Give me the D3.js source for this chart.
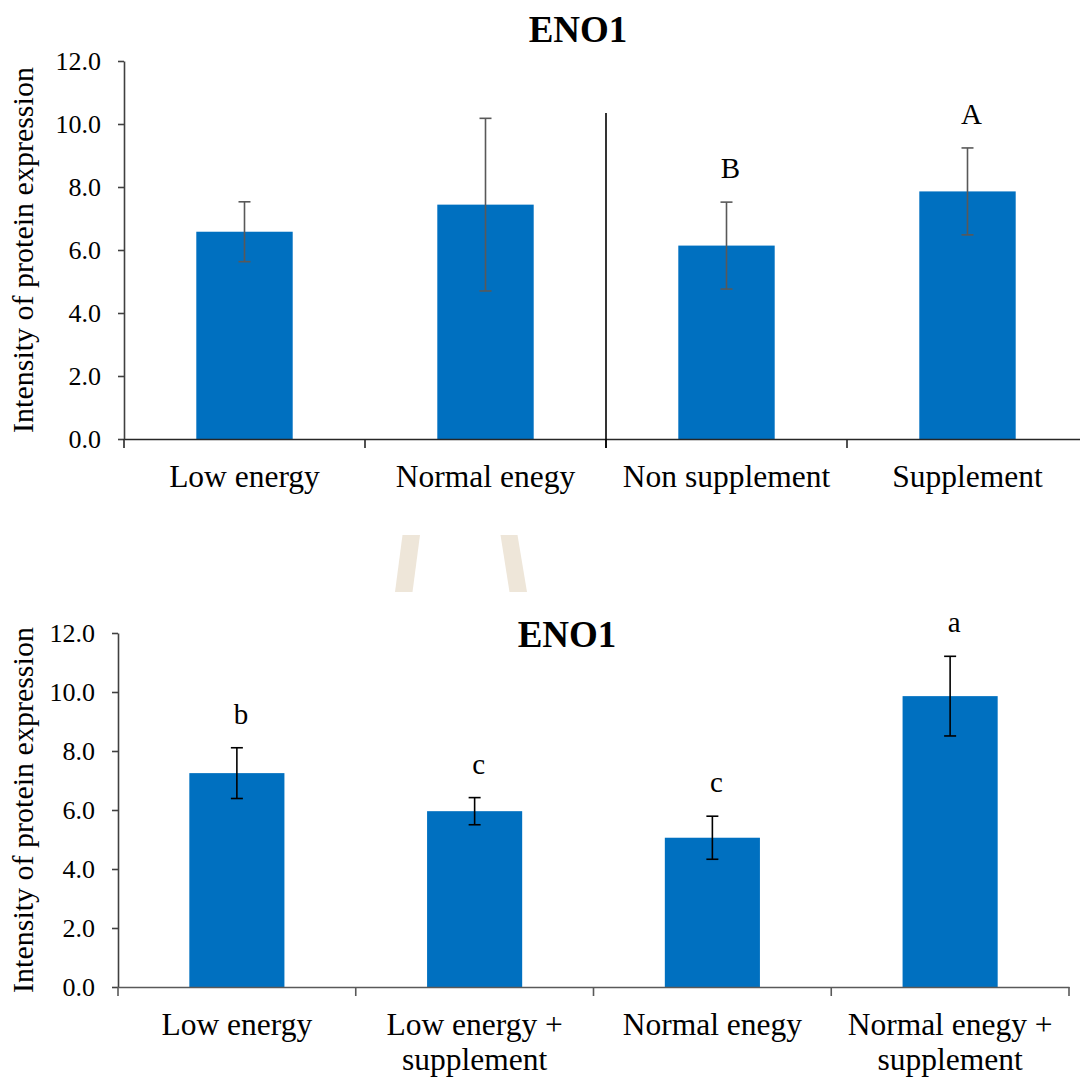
<!DOCTYPE html>
<html>
<head>
<meta charset="utf-8">
<script src="https://cdn.jsdelivr.net/npm/d3@7"></script>
<style>
  body { margin: 0; background: #fff; }
  svg { display: block; }
</style>
</head>
<body>
<div id="chart"></div>
<script>
// Données (moyenne ± erreur)
const topCategories = ['Low energy', 'Normal enegy', 'Non supplement', 'Supplement']
const topMeans      = [6.58, 7.44, 6.14, 7.86]
const topErrors     = [0.95, 2.74, 1.38, 1.38]
const topLetters    = ['', '', 'B', 'A']

const bottomCategories = ['Low energy', 'Low energy + supplement', 'Normal enegy', 'Normal enegy + supplement']
const bottomLabelLines = [['Low energy'], ['Low energy +', 'supplement'], ['Normal enegy'], ['Normal enegy +', 'supplement']]
const bottomMeans   = [7.25, 5.96, 5.06, 9.86]
const bottomErrors  = [0.86, 0.46, 0.73, 1.35]
const bottomLetters = ['b', 'c', 'c', 'a']

const yTicks = [0, 2, 4, 6, 8, 10, 12]

const STYLE = {
  bar:      '#0070C0',
  text:     '#000000',
  axis:     '#404040',
  font:     "'Liberation Serif', 'Times New Roman', serif",
}

const svg = d3.select('#chart')
  .append('svg')
  .attr('width', 1080)
  .attr('height', 1077)
  .style('background', '#fff')

// Filigrane beige entre les deux graphiques
const wm = svg.append('g').attr('fill', '#EEE6D9')
wm.append('path').attr('d', 'M402.5,535 L420,535 L412.5,592 L395,592 Z')
wm.append('path').attr('d', 'M500.5,535 L517.5,535 L527,592 L509.5,592 Z')

function buildChart(opts) {
  const { categories, labelLines, means, errors, letters, xRange, yRange,
          title, titleX, titleY, errColor, xAxisColor, divider } = opts

  const x = d3.scaleBand()
    .domain(categories)
    .range(xRange)
    .paddingInner(0.6)
    .paddingOuter(0.3)

  const y = d3.scaleLinear()
    .domain([0, 12])
    .range(yRange)

  const g = svg.append('g')

  // Titre
  g.append('text')
    .attr('x', titleX).attr('y', titleY)
    .attr('text-anchor', 'middle')
    .attr('font-family', STYLE.font)
    .attr('font-weight', 'bold')
    .attr('font-size', 37)
    .attr('fill', STYLE.text)
    .text(title)

  // Barres
  g.selectAll('rect.bar')
    .data(categories)
    .join('rect')
    .attr('class', 'bar')
    .attr('x', d => x(d))
    .attr('width', x.bandwidth())
    .attr('y', (d, i) => y(means[i]))
    .attr('height', (d, i) => y(0) - y(means[i]))
    .attr('fill', STYLE.bar)

  // Barres d'erreur
  const capW = 12
  categories.forEach((c, i) => {
    const cx = x(c) + x.bandwidth() / 2
    const hi = y(means[i] + errors[i])
    const lo = y(means[i] - errors[i])
    const eg = g.append('g').attr('stroke', errColor).attr('stroke-width', 1.6)
    eg.append('line').attr('x1', cx).attr('x2', cx).attr('y1', hi).attr('y2', lo)
    eg.append('line').attr('x1', cx - capW / 2).attr('x2', cx + capW / 2).attr('y1', hi).attr('y2', hi)
    eg.append('line').attr('x1', cx - capW / 2).attr('x2', cx + capW / 2).attr('y1', lo).attr('y2', lo)

    if (letters[i]) {
      g.append('text')
        .attr('x', cx + 4).attr('y', hi - 24)
        .attr('text-anchor', 'middle')
        .attr('font-family', STYLE.font)
        .attr('font-size', 29)
        .attr('fill', STYLE.text)
        .text(letters[i])
    }
  })

  // Axe Y
  g.append('g')
    .attr('transform', `translate(${xRange[0]},0)`)
    .call(d3.axisLeft(y).tickValues(yTicks).tickSize(6).tickSizeOuter(0).tickPadding(17)
      .tickFormat(d3.format('.1f')))
    .call(a => a.select('.domain').attr('stroke', STYLE.axis).attr('stroke-width', 1.6))
    .call(a => a.selectAll('.tick line').attr('stroke', STYLE.axis).attr('stroke-width', 1.6))
    .call(a => a.selectAll('.tick text')
      .attr('fill', STYLE.text)
      .attr('font-family', STYLE.font)
      .attr('font-size', 26))

  // Label axe Y
  g.append('text')
    .attr('transform', 'rotate(-90)')
    .attr('x', -(yRange[0] + yRange[1]) / 2)
    .attr('y', 33)
    .attr('text-anchor', 'middle')
    .attr('font-family', STYLE.font)
    .attr('font-size', 30)
    .attr('fill', STYLE.text)
    .text('Intensity of protein expression')

  // Axe X — ligne de base
  g.append('g')
    .attr('transform', `translate(0,${y(0)})`)
    .call(d3.axisBottom(x).tickSize(0).tickSizeOuter(0).tickFormat(''))
    .call(a => a.select('.domain').attr('stroke', xAxisColor).attr('stroke-width', 1.6))

  // Graduations aux frontières des catégories
  const step = x.step()
  const bounds = d3.range(categories.length + 1).map(i => xRange[0] + i * step)
  g.selectAll('line.xtick')
    .data(bounds)
    .join('line')
    .attr('class', 'xtick')
    .attr('x1', d => d).attr('x2', d => d)
    .attr('y1', y(0)).attr('y2', y(0) + 9)
    .attr('stroke', xAxisColor)
    .attr('stroke-width', 1.6)

  // Étiquettes des catégories
  categories.forEach((c, i) => {
    const cx = x(c) + x.bandwidth() / 2
    const t = g.append('text')
      .attr('x', cx)
      .attr('y', y(0) + 48)
      .attr('text-anchor', 'middle')
      .attr('font-family', STYLE.font)
      .attr('font-size', 31.5)
      .attr('fill', STYLE.text)
    labelLines[i].forEach((line, k) => {
      t.append('tspan').attr('x', cx).attr('dy', k === 0 ? 0 : 35).text(line)
    })
  })

  // Séparateur vertical entre les deux facteurs
  if (divider != null) {
    const dx = xRange[0] + divider * step
    g.append('line')
      .attr('x1', dx).attr('x2', dx)
      .attr('y1', y(10.35)).attr('y2', y(0) + 9)
      .attr('stroke', '#000')
      .attr('stroke-width', 1.6)
  }
}

buildChart({
  categories: topCategories,
  labelLines: topCategories.map(c => [c]),
  means: topMeans,
  errors: topErrors,
  letters: topLetters,
  xRange: [124, 1088],
  yRange: [439, 61],
  title: 'ENO1',
  titleX: 578,
  titleY: 42,
  errColor: '#595959',
  xAxisColor: '#262626',
  divider: 2,
})

buildChart({
  categories: bottomCategories,
  labelLines: bottomLabelLines,
  means: bottomMeans,
  errors: bottomErrors,
  letters: bottomLetters,
  xRange: [118, 1069],
  yRange: [987, 633],
  title: 'ENO1',
  titleX: 567,
  titleY: 647,
  errColor: '#000',
  xAxisColor: '#595959',
  divider: null,
})
</script>
</body>
</html>
